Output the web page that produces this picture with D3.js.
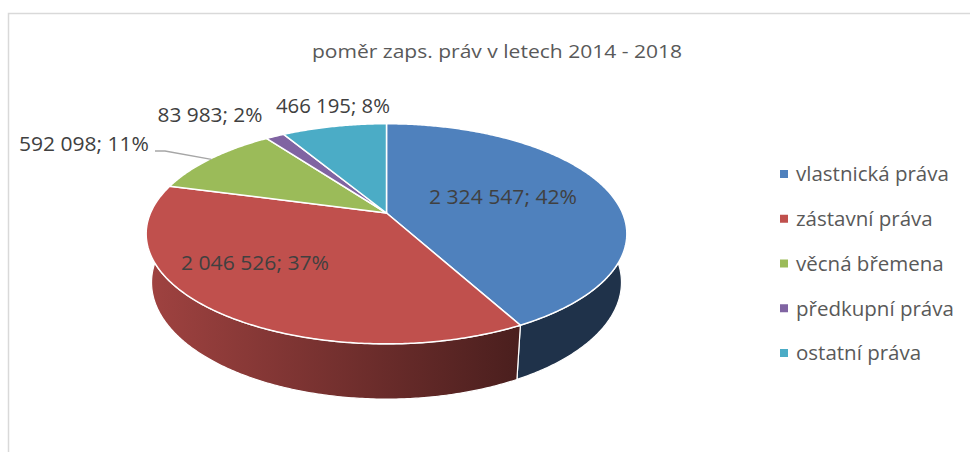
<!DOCTYPE html>
<html>
<head>
<meta charset="utf-8">
<script src="https://cdn.jsdelivr.net/npm/d3@7"></script>
<style>
  body { margin: 0; background: #fff; }
  text { font-family: "Open Sans", Calibri, Lato, sans-serif; }
</style>
</head>
<body>
<svg width="970" height="452"></svg>
<script>
const title = "poměr zaps. práv v letech 2014 - 2018";
const categories = ["vlastnická práva", "zástavní práva", "věcná břemena", "předkupní práva", "ostatní práva"];
const values = [2324547, 2046526, 592098, 83983, 466195];
const colors = ["#4f81bd", "#c0504d", "#9bbb59", "#8064a2", "#4bacc6"];

// where Excel put the data labels (text centre / baseline) - layout only
const labelPos = [[503, 204], [255, 270], [84, 151], [210, 122], [333, 113]];
const labelLen = [148, 148, 130, 105, 114];

var svg = d3.select("svg"),
  width = +svg.attr("width"),
  height = +svg.attr("height");

// chart frame
svg.append("rect")
  .attr("x", 8.5).attr("y", 13.5)
  .attr("width", width).attr("height", height)
  .attr("fill", "none")
  .attr("stroke", "#d9d9d9")
  .attr("stroke-width", 1.5);

// 3d projection of the pie disc
var cx = 386.5, cy = 213, R = 236,
  s = 0.4497, c = 0.893, a = 0.189, h = 0.232;

function proj(theta, r, Y) {
  var X = r * Math.sin(theta), Z = -r * Math.cos(theta);
  var dn = 1 - a * Z - a * (s / c) * Y;
  return [cx + R * X / dn, cy - R * (Y * c - Z * s) / dn];
}

var pie = d3.pie().sort(null).value(function(d) { return d; });
var arcs = pie(values);
var total = d3.sum(values);

var fmt = d3.formatLocale({ decimal: ",", thousands: " ", grouping: [3], currency: ["", ""] }).format(",d");

function scaleColor(col, k) {
  var r = d3.rgb(col);
  return d3.rgb(r.r * k, r.g * k, r.b * k).formatHex();
}

var defs = svg.append("defs");
var xl = proj(Math.PI * 1.5, 1, 0)[0], xr = cx + 0.55 * R;
arcs.forEach(function(d, i) {
  var g = defs.append("linearGradient")
    .attr("id", "side" + i)
    .attr("gradientUnits", "userSpaceOnUse")
    .attr("x1", xl).attr("x2", xr).attr("y1", 0).attr("y2", 0);
  g.append("stop").attr("offset", 0).attr("stop-color", scaleColor(colors[i], 0.83));
  g.append("stop").attr("offset", 1).attr("stop-color", scaleColor(colors[i], 0.39));
});

var line = d3.line();

function arcPoints(a0, a1, r, Y) {
  var n = Math.max(2, Math.ceil((a1 - a0) / 0.01));
  return d3.range(n + 1).map(function(k) { return proj(a0 + (a1 - a0) * k / n, r, Y); });
}

// side walls (front half only)
var sides = svg.append("g").attr("class", "sides");
arcs.forEach(function(d, i) {
  var a0 = Math.max(d.startAngle, Math.PI / 2),
    a1 = Math.min(d.endAngle, Math.PI * 1.5);
  if (a1 <= a0) return;
  var pts = arcPoints(a0, a1, 1, 0).concat(arcPoints(a0, a1, 1, -h).reverse());
  sides.append("path")
    .attr("d", line(pts) + "Z")
    .attr("fill", "url(#side" + i + ")")
    .attr("stroke", "#fff")
    .attr("stroke-width", 1.2)
    .attr("stroke-linejoin", "round");
});

// top faces
svg.append("g").attr("class", "tops")
  .selectAll("path")
  .data(arcs)
  .enter().append("path")
  .attr("d", function(d) {
    return line([proj(0, 0, 0)].concat(arcPoints(d.startAngle, d.endAngle, 1, 0))) + "Z";
  })
  .attr("fill", function(d, i) { return colors[i]; })
  .attr("stroke", "#fff")
  .attr("stroke-width", 1.5)
  .attr("stroke-linejoin", "round");

// leader line for the outside label of the green slice
var gMid = (arcs[2].startAngle + arcs[2].endAngle) / 2;
var gEnd = proj(gMid, 1, 0);
svg.append("path")
  .attr("d", line([[155, 151], [165, 151], [gEnd[0], gEnd[1] + 1]]))
  .attr("fill", "none")
  .attr("stroke", "#a6a6a6")
  .attr("stroke-width", 1.3);

// data labels
svg.append("g").attr("class", "labels")
  .selectAll("text")
  .data(arcs)
  .enter().append("text")
  .attr("x", function(d, i) { return labelPos[i][0]; })
  .attr("y", function(d, i) { return labelPos[i][1]; })
  .attr("text-anchor", "middle")
  .attr("font-size", 20.5)
  .attr("fill", "#404040")
  .attr("textLength", function(d, i) { return labelLen[i]; })
  .attr("lengthAdjust", "spacingAndGlyphs")
  .text(function(d) { return fmt(d.value) + "; " + Math.round(d.value / total * 100) + "%"; });

// title
svg.append("text")
  .attr("x", 497).attr("y", 58)
  .attr("text-anchor", "middle")
  .attr("font-size", 18.5)
  .attr("fill", "#595959")
  .attr("textLength", 370)
  .attr("lengthAdjust", "spacingAndGlyphs")
  .text(title);

// legend
var ly = d3.scalePoint().domain(categories).range([174, 353]);
var legend = svg.append("g").attr("class", "legend")
  .selectAll("g")
  .data(categories)
  .enter().append("g")
  .attr("transform", function(d) { return "translate(780," + ly(d) + ")"; });

legend.append("rect")
  .attr("x", 0).attr("y", -4)
  .attr("width", 8).attr("height", 8)
  .attr("fill", function(d, i) { return colors[i]; });

legend.append("text")
  .attr("x", 16).attr("dy", "0.36em")
  .attr("font-size", 20.5)
  .attr("fill", "#595959")
  .text(function(d) { return d; });
</script>
</body>
</html>
